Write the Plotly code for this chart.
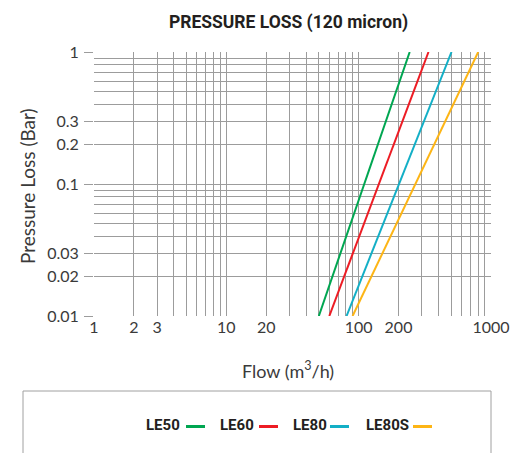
import plotly.graph_objects as go

# ---- data ----
series_names = ["LE50", "LE60", "LE80", "LE80S"]
series_colors = ["#00a651", "#ed1c24", "#13afc6", "#fdb515"]
pressure_bar = [0.01, 1.0]
flow_LE50 = [50, 243]
flow_LE60 = [60, 337]
flow_LE80 = [81, 503]
flow_LE80S = [90, 800]
series_flows = [flow_LE50, flow_LE60, flow_LE80, flow_LE80S]

x_major = [1, 2, 3, 10, 20, 100, 200, 1000]
x_minor = [4, 5, 6, 7, 8, 9, 30, 40, 50, 60, 70, 80, 90,
           300, 400, 500, 600, 700, 800, 900]
y_major = [0.01, 0.02, 0.03, 0.1, 0.2, 0.3, 1]
y_minor = [0.04, 0.05, 0.06, 0.07, 0.08, 0.09,
           0.4, 0.5, 0.6, 0.7, 0.8, 0.9]

W, H = 514, 453
PL, PT, PR, PB = 94, 52, 491, 316  # plot area in screen pixels
L, T = PL, PT
PW, PH = PR - PL, PB - PT
R, B = W - L - PW, H - T - PH


def px(x):
    return (x - PL) / PW


def py(y):
    return (PB - y) / PH


fig = go.Figure()
for name, col, flows in zip(series_names, series_colors, series_flows):
    fig.add_trace(go.Scatter(x=flows, y=pressure_bar, mode="lines", name=name,
                             line=dict(color=col, width=2), showlegend=False))

grid_col = "#9c9c9c"
tick_font = dict(family="Lato, sans-serif", size=16, color="#3a3a3a")

fig.update_xaxes(type="log", range=[0, 3], tickvals=x_major,
                 ticktext=[str(v) for v in x_major], automargin=False,
                 showgrid=True, gridcolor=grid_col, gridwidth=1,
                 minor=dict(tickvals=x_minor, showgrid=True, gridcolor=grid_col, gridwidth=1, ticks=""),
                 ticks="", showline=False, zeroline=False, tickfont=tick_font)
fig.update_yaxes(type="log", range=[-2, 0], tickvals=y_major,
                 ticktext=[str(v) for v in y_major], automargin=False,
                 showgrid=True, gridcolor=grid_col, gridwidth=1,
                 minor=dict(tickvals=y_minor, showgrid=True, gridcolor=grid_col, gridwidth=1, ticks=""),
                 ticks="outside", ticklen=9, tickcolor=grid_col, ticklabelstandoff=2,
                 showline=False, zeroline=False, tickfont=tick_font)

annotations = [
    dict(text="Flow (m<sup>3</sup>/h)", x=px(287.5), y=py(370), xref="paper", yref="paper",
         showarrow=False, xanchor="center", yanchor="middle",
         font=dict(family="Lato, sans-serif", size=18, color="#3a3a3a")),
    dict(text="Pressure Loss (Bar)", x=px(27.5), y=py(186.5), xref="paper", yref="paper",
         showarrow=False, xanchor="center", yanchor="middle", textangle=-90,
         font=dict(family="Lato, sans-serif", size=19, color="#3a3a3a")),
]

shapes = [dict(type="rect", xref="paper", yref="paper",
               x0=px(23), x1=px(491), y0=py(391), y1=py(470),
               line=dict(color="#a0a0a0", width=1), fillcolor="rgba(0,0,0,0)")]

text_x = [144, 218, 291, 364]
line_x = [(186, 205), (259, 278), (330, 349), (413, 432)]
for name, col, tx, (l0, l1) in zip(series_names, series_colors, text_x, line_x):
    annotations.append(dict(text="<b>" + name + "</b>", x=px(tx), y=py(425), xref="paper", yref="paper",
                            showarrow=False, xanchor="left", yanchor="middle",
                            font=dict(family="Roboto, sans-serif", size=15, color="#231f20")))
    shapes.append(dict(type="line", xref="paper", yref="paper",
                       x0=px(l0), x1=px(l1), y0=py(426.5), y1=py(426.5),
                       line=dict(color=col, width=3)))

fig.update_layout(
    width=W, height=H,
    margin=dict(l=L, r=R, t=T, b=B, autoexpand=False),
    paper_bgcolor="white", plot_bgcolor="white",
    title=dict(text="<b>PRESSURE LOSS (120 micron)</b>", x=288.5 / W, y=1 - 22 / H,
               xanchor="center", yanchor="middle",
               font=dict(family="Roboto, sans-serif", size=17.5, color="#231f20")),
    annotations=annotations, shapes=shapes,
)

fig.write_html("out.html", config={"displayModeBar": False},
               post_script="document.body.style.margin='0';document.body.style.overflow='hidden';")
